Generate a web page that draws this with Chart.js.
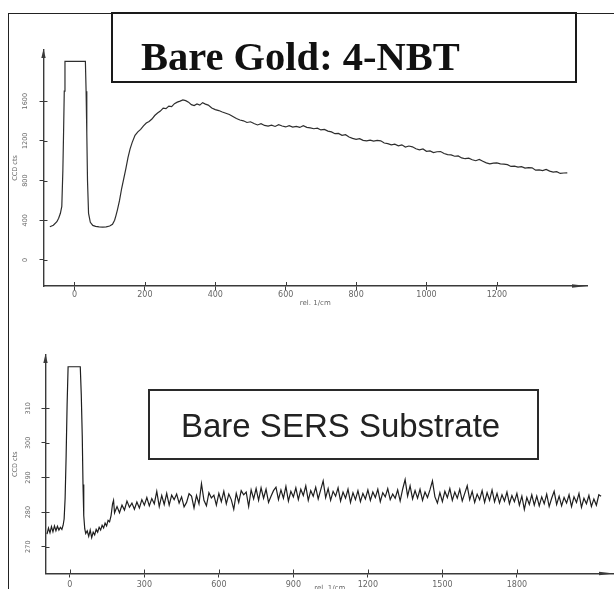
<!DOCTYPE html>
<html>
<head>
<meta charset="utf-8">
<script src="https://cdn.jsdelivr.net/npm/chart.js@4/dist/chart.umd.min.js"></script>
<style>
  html, body { margin: 0; padding: 0; background: #fff; width: 614px; height: 589px; overflow: hidden; }
  #wrap { position: relative; width: 614px; height: 589px; }
  canvas { position: absolute; left: 0; }
  .frame { position: absolute; left: 8px; top: 13px; width: 606px; height: 580px; border-left: 1px solid #222; border-top: 1px solid #222; box-sizing: border-box; }
  .box { position: absolute; box-sizing: border-box; }
  .lbl { position: absolute; white-space: nowrap; line-height: 1; }
</style>
</head>
<body>
<div id="wrap">
  <canvas id="goldChart" width="614" height="312" style="top:0"></canvas>
  <canvas id="sersChart" width="614" height="280" style="top:320px"></canvas>
  <div class="frame"></div>
  <div class="box" style="left:111px; top:12px; width:466px; height:71px; border:2.5px solid #1a1a1a;"></div>
  <div class="lbl" style="left:141px; top:33px; font: bold 40.5px 'Liberation Serif'; color:#111;">Bare Gold: 4-NBT</div>
  <div class="box" style="left:148px; top:389px; width:391px; height:71px; border:2.5px solid #2a2a2a;"></div>
  <div class="lbl" style="left:181px; top:407px; font: 33px 'Liberation Sans'; color:#222;">Bare SERS Substrate</div>
</div>
<script>
// ---------- DATA: Bare Gold 4-NBT (shift rel. 1/cm, CCD cts) ----------
const goldSpectrum = [
  [-70,335],[-60,350],[-50,385],[-45,420],[-40,470],[-36,540],[-33,900],[-31,1280],[-29,1700],[-27,2000],
  [31,2000],[33,1700],[35,1280],[37,800],[40,470],[45,380],[52,348],[60,338],[70,333],[80,332],
  [90,334],[100,342],[108,360],[114,400],[118,450],[122,505],[128,600],[134,720],[140,820],[146,920],
  [152,1030],[158,1120],[164,1185],[172,1255],[180,1290],[188,1315],[196,1350],[204,1380],[212,1395],[220,1420],
  [228,1455],[236,1480],[244,1500],[252,1530],[260,1525],[268,1550],[276,1545],[284,1575],[292,1590],[300,1600],
  [308,1612],[316,1605],[324,1590],[332,1565],[340,1555],[348,1572],[356,1560],[364,1585],[372,1570],[380,1560],
  [390,1530],[400,1515],[410,1505],[420,1490],[430,1478],[440,1465],[450,1445],[460,1425],[470,1410],[480,1402],
  [490,1385],[500,1392],[510,1375],[520,1360],[530,1372],[540,1355],[550,1348],[560,1358],[570,1345],[580,1362],
  [590,1350],[600,1340],[610,1352],[620,1338],[630,1345],[640,1335],[650,1352],[660,1336],[670,1330],[680,1322],
  [690,1328],[700,1310],[710,1315],[720,1298],[730,1290],[740,1272],[750,1275],[760,1255],[770,1262],[780,1238],
  [790,1225],[800,1215],[810,1222],[820,1205],[830,1200],[840,1208],[850,1198],[860,1205],[870,1200],[880,1178],
  [890,1172],[900,1160],[910,1166],[920,1150],[930,1160],[940,1138],[950,1148],[960,1140],[970,1120],[980,1110],
  [990,1118],[1000,1095],[1010,1098],[1020,1082],[1030,1090],[1040,1092],[1050,1072],[1060,1062],[1070,1058],[1080,1045],
  [1090,1048],[1100,1028],[1110,1020],[1120,1025],[1130,1010],[1140,1000],[1150,1012],[1160,995],[1170,978],[1180,968],
  [1190,975],[1200,978],[1210,968],[1220,965],[1230,960],[1240,942],[1250,945],[1260,935],[1270,940],[1280,925],
  [1290,930],[1300,928],[1310,905],[1320,908],[1330,900],[1340,912],[1350,895],[1360,885],[1370,890],[1380,872],
  [1390,876],[1400,878]
];
const goldXTicks = [0, 200, 400, 600, 800, 1000, 1200];
const goldYTicks = [0, 400, 800, 1200, 1600];

// ---------- DATA: Bare SERS Substrate ----------
const sersSpectrum = [
  [-92,273.6],[-86,275.4],[-80,274.0],[-74,275.8],[-68,274.3],[-62,276.0],[-56,274.6],[-50,275.9],[-44,274.8],[-38,275.6],
  [-32,275.0],[-27,276.2],[-23,278.0],[-19,284],[-15,296],[-11,311],[-7,322],[42,322],[46,314],[50,302],
  [53,288],[56,279],[60,275.2],[64,273.8],[70,274.6],[76,273.0],[82,274.8],[88,272.6],[94,274.2],[100,273.4],
  [106,275.0],[112,274.2],[118,275.6],[124,274.8],[130,276.2],[136,275.4],[142,276.8],[148,276.0],[154,277.6],[160,277.2],
  [166,279.0],[172,282.4],[176,283.4],[180,279.8],[190,281.6],[200,279.8],[210,282.0],[220,280.6],[230,283.2],[240,281.4],
  [250,282.6],[260,280.8],[270,282.9],[280,281.2],[290,283.6],[300,282.0],[310,284.2],[320,281.8],[330,283.9],[340,282.4],
  [350,286.0],[360,281.6],[370,284.8],[380,282.2],[390,285.4],[400,282.0],[410,284.9],[420,283.6],[430,285.2],[440,282.6],
  [450,284.4],[460,281.5],[470,282.8],[480,285.3],[490,284.6],[500,281.2],[510,284.8],[520,282.4],[530,288.2],[540,283.4],
  [550,281.8],[560,285.6],[570,284.1],[580,284.9],[590,282.0],[600,285.4],[610,283.0],[620,286.0],[630,282.4],[640,285.2],
  [650,283.6],[660,280.8],[670,285.4],[680,282.8],[690,286.2],[700,285.0],[710,285.8],[720,281.6],[730,286.4],[740,283.8],
  [750,286.8],[760,283.4],[770,287.0],[780,284.0],[790,286.6],[800,282.8],[810,284.6],[820,286.2],[830,287.2],[840,283.6],
  [850,286.4],[860,284.0],[870,287.4],[880,283.2],[890,286.0],[900,284.4],[910,287.0],[920,283.6],[930,286.6],[940,284.8],
  [950,287.6],[960,283.4],[970,286.2],[980,284.6],[990,287.2],[1000,283.8],[1010,286.4],[1020,289.0],[1030,284.2],[1040,286.8],
  [1050,283.4],[1060,286.0],[1070,284.6],[1080,287.0],[1090,283.2],[1100,285.8],[1110,284.0],[1120,286.6],[1130,282.8],[1140,285.6],
  [1150,283.6],[1160,286.2],[1170,283.0],[1180,285.4],[1190,283.8],[1200,286.4],[1210,283.4],[1220,285.8],[1230,284.2],[1240,286.6],
  [1250,283.0],[1260,285.6],[1270,284.4],[1280,286.8],[1290,283.6],[1300,285.2],[1310,284.0],[1320,286.4],[1330,283.2],[1340,286.6],
  [1350,289.4],[1360,284.6],[1370,287.6],[1380,283.8],[1390,286.2],[1400,284.0],[1410,286.6],[1420,283.4],[1430,285.8],[1440,284.2],
  [1450,286.4],[1460,289.0],[1470,284.4],[1480,282.6],[1490,285.6],[1500,283.0],[1510,286.0],[1520,284.2],[1530,286.8],[1540,283.4],
  [1550,285.8],[1560,284.0],[1570,286.6],[1580,283.2],[1590,285.4],[1600,287.6],[1610,283.6],[1620,286.0],[1630,282.8],[1640,285.2],
  [1650,283.6],[1660,286.2],[1670,282.8],[1680,285.6],[1690,283.4],[1700,286.4],[1710,283.0],[1720,285.4],[1730,282.6],[1740,285.0],
  [1750,283.2],[1760,285.8],[1770,282.4],[1780,284.8],[1790,283.0],[1800,285.4],[1810,282.0],[1820,284.6],[1830,280.8],[1840,284.2],
  [1850,282.2],[1860,285.0],[1870,282.0],[1880,284.6],[1890,281.8],[1900,284.4],[1910,282.4],[1920,285.2],[1930,281.6],[1940,284.0],
  [1950,286.0],[1960,282.2],[1970,284.6],[1980,281.8],[1990,284.2],[2000,282.6],[2010,285.0],[2020,281.6],[2030,284.4],[2040,282.8],
  [2050,285.4],[2060,281.4],[2070,284.0],[2080,282.4],[2090,284.8],[2100,281.6],[2110,283.8],[2120,282.0],[2130,285.0],[2139,284.6]
];
const sersXTicks = [0, 300, 600, 900, 1200, 1500, 1800];
const sersYTicks = [270, 280, 290, 300, 310];

const axisColor = '#3a3a3a';
const tickColor = '#666';

// ---- arrows at axis ends + inner half of the tick marks ----
const axisDecor = {
  id: 'axisDecor',
  afterDraw(chart) {
    const {ctx, chartArea: a, scales: {x, y}} = chart;
    ctx.save();
    ctx.fillStyle = axisColor;
    ctx.strokeStyle = axisColor;
    ctx.beginPath();
    ctx.moveTo(a.left, a.top - 1);
    ctx.lineTo(a.left - 2.2, a.top + 8);
    ctx.lineTo(a.left + 2.2, a.top + 8);
    ctx.closePath();
    ctx.fill();
    ctx.beginPath();
    ctx.moveTo(a.right, a.bottom);
    ctx.lineTo(a.right - 15, a.bottom - 1.8);
    ctx.lineTo(a.right - 15, a.bottom + 1.8);
    ctx.closePath();
    ctx.fill();
    ctx.lineWidth = 1;
    y.ticks.forEach(t => {
      const py = Math.round(y.getPixelForValue(t.value)) + 0.5;
      ctx.beginPath(); ctx.moveTo(a.left, py); ctx.lineTo(a.left + 4, py); ctx.stroke();
    });
    x.ticks.forEach(t => {
      const px = Math.round(x.getPixelForValue(t.value)) + 0.5;
      ctx.beginPath(); ctx.moveTo(px, a.bottom); ctx.lineTo(px, a.bottom - 4); ctx.stroke();
    });
    ctx.restore();
  }
};

function spectrumChart(canvasId, points, opt) {
  return new Chart(document.getElementById(canvasId), {
    type: 'line',
    data: {
      datasets: [{
        data: points.map(p => ({x: p[0], y: p[1]})),
        borderColor: opt.lineColor,
        borderWidth: 1.2,
        pointRadius: 0,
        tension: 0,
        fill: false
      }]
    },
    options: {
      responsive: false,
      animation: false,
      devicePixelRatio: 1,
      layout: { padding: opt.padding },
      plugins: { legend: { display: false }, tooltip: { enabled: false } },
      scales: {
        x: {
          type: 'linear',
          min: opt.xMin, max: opt.xMax,
          afterBuildTicks: s => { s.ticks = opt.xTicks.map(v => ({value: v})); },
          afterFit: s => { s.height = opt.xHeight; },
          grid: { display: true, drawOnChartArea: false, drawTicks: true, tickLength: 4, color: axisColor },
          border: { display: true, color: axisColor, width: 1.4 },
          ticks: {
            color: tickColor, padding: opt.xTickPad, maxRotation: 0,
            font: { family: 'DejaVu Sans', size: 8 },
            callback: v => String(v)
          },
          title: {
            display: true, text: 'rel. 1/cm', color: tickColor,
            font: { family: 'DejaVu Sans', size: 7 },
            padding: { top: 0, bottom: opt.xTitlePad }
          }
        },
        y: {
          type: 'linear',
          min: opt.yMin, max: opt.yMax,
          afterBuildTicks: s => { s.ticks = opt.yTicks.map(v => ({value: v})); },
          afterFit: s => { s.width = opt.yWidth; },
          grid: { display: true, drawOnChartArea: false, drawTicks: true, tickLength: 4, color: axisColor },
          border: { display: true, color: axisColor, width: 1.4 },
          ticks: {
            color: tickColor, padding: opt.yTickPad, minRotation: 90, maxRotation: 90, crossAlign: 'center',
            font: { family: 'DejaVu Sans', size: 6.5 },
            callback: v => String(v)
          },
          title: {
            display: true, text: 'CCD cts', color: tickColor,
            font: { family: 'DejaVu Sans', size: 6.5 },
            padding: { top: 11, bottom: 0 }
          }
        }
      }
    },
    plugins: [axisDecor]
  });
}

spectrumChart('goldChart', goldSpectrum, {
  lineColor: '#2e2e2e',
  xMin: -88, xMax: 1456, yMin: -262, yMax: 2115,
  xTicks: goldXTicks, yTicks: goldYTicks,
  padding: { top: 50, right: 27, left: 0, bottom: 0 },
  yWidth: 43.5, xHeight: 26, xTickPad: 0, xTitlePad: 5, yTickPad: 6
});

spectrumChart('sersChart', sersSpectrum, {
  lineColor: '#1e1e1e',
  xMin: -98, xMax: 2191, yMin: 262.25, yMax: 325.4,
  xTicks: sersXTicks, yTicks: sersYTicks,
  padding: { top: 35, right: 0, left: 0, bottom: 0 },
  yWidth: 45.5, xHeight: 26.5, xTickPad: 2.5, xTitlePad: 8, yTickPad: 7
});
</script>
</body>
</html>
